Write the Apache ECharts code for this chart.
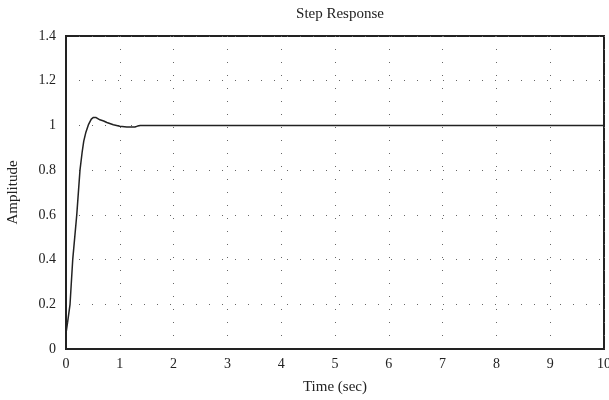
<!DOCTYPE html>
<html>
<head>
<meta charset="utf-8">
<script src="https://cdn.jsdelivr.net/npm/echarts@6/dist/echarts.min.js"></script>
<style>html,body{margin:0;padding:0;background:#fff;}#c{width:609px;height:400px;}</style>
</head>
<body>
<div id="c"></div>
<script>
const timeValues = [0, 0.03, 0.075, 0.125, 0.2, 0.26, 0.3, 0.33, 0.37, 0.42, 0.47, 0.51, 0.56, 0.63, 0.7, 0.76, 0.88, 1.0, 1.13, 1.28, 1.33, 1.38, 1.5, 2, 3, 4, 5, 6, 7, 8, 9, 10];
const amplitudeValues = [0.07, 0.12, 0.2, 0.4, 0.6, 0.8, 0.88, 0.93, 0.97, 1.005, 1.028, 1.036, 1.035, 1.025, 1.02, 1.013, 1.003, 0.996, 0.993, 0.993, 0.997, 1.0, 1.0, 1.0, 1.0, 1.0, 1.0, 1.0, 1.0, 1.0, 1.0, 1.0];
const titleText = 'Step Response';
const xName = 'Time (sec)';
const yName = 'Amplitude';

const font = 'Liberation Serif';
const chart = echarts.init(document.getElementById('c'));
chart.setOption({
  animation: false,
  backgroundColor: '#fff',
  title: {
    text: titleText, left: 335, top: 2, textAlign: 'center',
    textStyle: { fontFamily: font, fontSize: 15, fontWeight: 'normal', color: '#222' }
  },
  grid: { left: 66, right: 5, top: 36, bottom: 51, outerBoundsMode: 'none', containLabel: false, show: true, borderColor: '#222', borderWidth: 2, backgroundColor: 'transparent' },
  xAxis: {
    type: 'value', min: 0, max: 10, interval: 1,
    name: xName, nameLocation: 'middle', nameGap: 31,
    nameTextStyle: { fontFamily: font, fontSize: 15, color: '#222' },
    axisLine: { show: true, lineStyle: { color: '#222', width: 2 } },
    axisTick: { show: false },
    axisLabel: { fontFamily: font, fontSize: 14, color: '#222', margin: 8 },
    splitLine: { show: true, lineStyle: { color: '#666', width: 1, type: [1, 12] } }
  },
  yAxis: {
    type: 'value', min: 0, max: 1.4, interval: 0.2,
    name: yName, nameLocation: 'middle', nameGap: 45,
    nameTextStyle: { fontFamily: font, fontSize: 15, color: '#222' },
    axisLine: { show: true, lineStyle: { color: '#222', width: 2 } },
    axisTick: { show: false },
    axisLabel: { fontFamily: font, fontSize: 14, color: '#222', margin: 10 },
    splitLine: { show: true, lineStyle: { color: '#666', width: 1, type: [1, 12] } }
  },
  series: [{
    type: 'line',
    data: timeValues.map((t, i) => [t, amplitudeValues[i]]),
    showSymbol: false,
    smooth: false,
    lineStyle: { color: '#222', width: 1.5 }
  }]
});
</script>
</body>
</html>
